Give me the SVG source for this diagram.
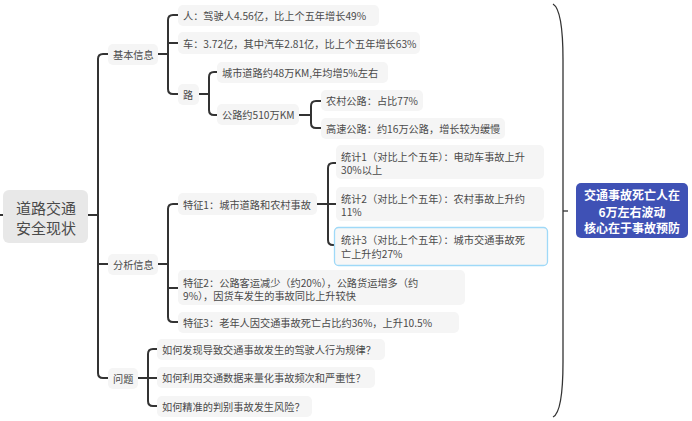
<svg xmlns="http://www.w3.org/2000/svg" width="692" height="421" viewBox="0 0 692 421">
<style>
.bx{fill:#f5f5f5}
.t{font-family:"Noto Sans CJK SC","Noto Sans",sans-serif;font-size:10.2px;fill:#4a4a4a;dominant-baseline:central}
.rt{font-family:"Noto Sans CJK SC","Noto Sans",sans-serif;font-size:15px;fill:#4a4a4a;text-anchor:middle;dominant-baseline:central}
.st{font-family:"Noto Sans CJK SC","Noto Sans",sans-serif;font-size:12px;font-weight:bold;fill:#ffffff;text-anchor:middle;dominant-baseline:central}
.c{fill:none;stroke:#333333;stroke-width:2;stroke-linecap:butt}
</style>
<rect width="692" height="421" fill="#ffffff"/>
<g id="connectors">
<path class="c" d="M0,215 H3"/>
<path class="c" d="M88,215 H98"/>
<path class="c" d="M108,54 H103 Q98,54 98,59 V373 Q98,378 103,378 H108 M98,264 H108"/>
<path class="c" d="M158,54 H168"/>
<path class="c" d="M178,15 H173 Q168,15 168,20 V89 Q168,94 173,94 H178 M168,43 H178"/>
<path class="c" d="M199,94 H209"/>
<path class="c" d="M217,72 H214 Q209,72 209,77 V110 Q209,115 214,115 H217"/>
<path class="c" d="M299,115 H311"/>
<path class="c" d="M321,101 H316 Q311,101 311,106 V123 Q311,128 316,128 H321"/>
<path class="c" d="M158,264 H168"/>
<path class="c" d="M178,204 H173 Q168,204 168,209 V317 Q168,322 173,322 H178 M168,288 H178"/>
<path class="c" d="M317,204 H328"/>
<path class="c" d="M336,163 H333 Q328,163 328,168 V240 Q328,245 333,245 H336 M328,204 H336"/>
<path class="c" d="M138,378 H148"/>
<path class="c" d="M157,349 H153 Q148,349 148,354 V401 Q148,406 153,406 H157 M148,378 H157"/>
<path d="M553,4 Q563,10 563,60 V362 Q563,412 553,417" fill="none" stroke="#333333" stroke-width="1.3"/>
<path d="M563,211 H568" fill="none" stroke="#333333" stroke-width="1.3"/>
</g>
<g id="root"><rect x="3" y="190" width="85" height="53" rx="6" fill="#e8e8e8"/><text class="rt" x="46" y="207">道路交通<tspan x="46" dy="20">安全现状</tspan></text></g>
<g id="n-basic"><rect class="bx" x="108" y="44" width="50" height="21" rx="5"/><text class="t" x="113" y="54.5">基本信息</text></g>
<g id="n-analysis"><rect class="bx" x="108" y="254" width="50" height="21" rx="5"/><text class="t" x="113" y="264.5">分析信息</text></g>
<g id="n-question"><rect class="bx" x="108" y="368" width="30" height="21" rx="5"/><text class="t" x="113" y="378.5">问题</text></g>
<g id="n-person"><rect class="bx" x="178" y="5" width="201" height="21" rx="5"/><text class="t" x="183" y="15.5">人：驾驶人4.56亿，比上个五年增长49%</text></g>
<g id="n-car"><rect class="bx" x="178" y="32" width="242" height="22" rx="5"/><text class="t" x="183" y="43">车：3.72亿，其中汽车2.81亿，比上个五年增长63%</text></g>
<g id="n-road"><rect class="bx" x="178" y="84" width="21" height="21" rx="5"/><text class="t" x="183" y="94.5">路</text></g>
<g id="n-city-road"><rect class="bx" x="217" y="62" width="171" height="21" rx="5"/><text class="t" x="222" y="72.5">城市道路约48万KM,年均增5%左右</text></g>
<g id="n-highway"><rect class="bx" x="217" y="104" width="82" height="21" rx="5"/><text class="t" x="222" y="114.5">公路约510万KM</text></g>
<g id="n-rural"><rect class="bx" x="321" y="90" width="102" height="21" rx="5"/><text class="t" x="326" y="100.5">农村公路：占比77%</text></g>
<g id="n-express"><rect class="bx" x="321" y="118" width="184" height="21" rx="5"/><text class="t" x="326" y="128.5">高速公路：约16万公路，增长较为缓慢</text></g>
<g id="n-f1"><rect class="bx" x="178" y="193" width="139" height="22" rx="5"/><text class="t" x="183" y="204">特征1：城市道路和农村事故</text></g>
<g id="n-s1"><rect class="bx" x="336" y="145" width="208" height="34" rx="5"/><text class="t" x="341" y="156">统计1（对比上个五年）：电动车事故上升<tspan x="341" dy="13">30%以上</tspan></text></g>
<g id="n-s2"><rect class="bx" x="336" y="187" width="208" height="34" rx="5"/><text class="t" x="341" y="198">统计2（对比上个五年）：农村事故上升约<tspan x="341" dy="13">11%</tspan></text></g>
<g id="n-s3"><rect x="334.5" y="227.5" width="213" height="38" rx="4" fill="#f7f7f7" stroke="#9fd9f8" stroke-width="1.3"/><text class="t" x="341" y="239.5">统计3（对比上个五年）：城市交通事故死<tspan x="341" dy="13.5">亡上升约27%</tspan></text></g>
<g id="n-f2"><rect class="bx" x="178" y="270" width="287" height="35" rx="5"/><text class="t" x="183" y="282">特征2：公路客运减少（约20%），公路货运增多（约<tspan x="183" dy="13">9%），因货车发生的事故同比上升较快</tspan></text></g>
<g id="n-f3"><rect class="bx" x="178" y="312" width="281" height="21" rx="5"/><text class="t" x="183" y="322.5">特征3：老年人因交通事故死亡占比约36%，上升10.5%</text></g>
<g id="n-q1"><rect class="bx" x="157" y="339" width="228" height="21" rx="5"/><text class="t" x="162" y="349.5">如何发现导致交通事故发生的驾驶人行为规律？</text></g>
<g id="n-q2"><rect class="bx" x="157" y="367" width="218" height="21" rx="5"/><text class="t" x="162" y="377.5">如何利用交通数据来量化事故频次和严重性？</text></g>
<g id="n-q3"><rect class="bx" x="157" y="396" width="155" height="21" rx="5"/><text class="t" x="162" y="406.5">如何精准的判别事故发生风险？</text></g>
<g id="n-summary"><rect x="576" y="183" width="112" height="55" rx="5" fill="#3f51b5"/><text class="st" x="632" y="194.5">交通事故死亡人在<tspan x="632" dy="16.5">6万左右波动</tspan><tspan x="632" dy="16">核心在于事故预防</tspan></text></g>
</svg>
